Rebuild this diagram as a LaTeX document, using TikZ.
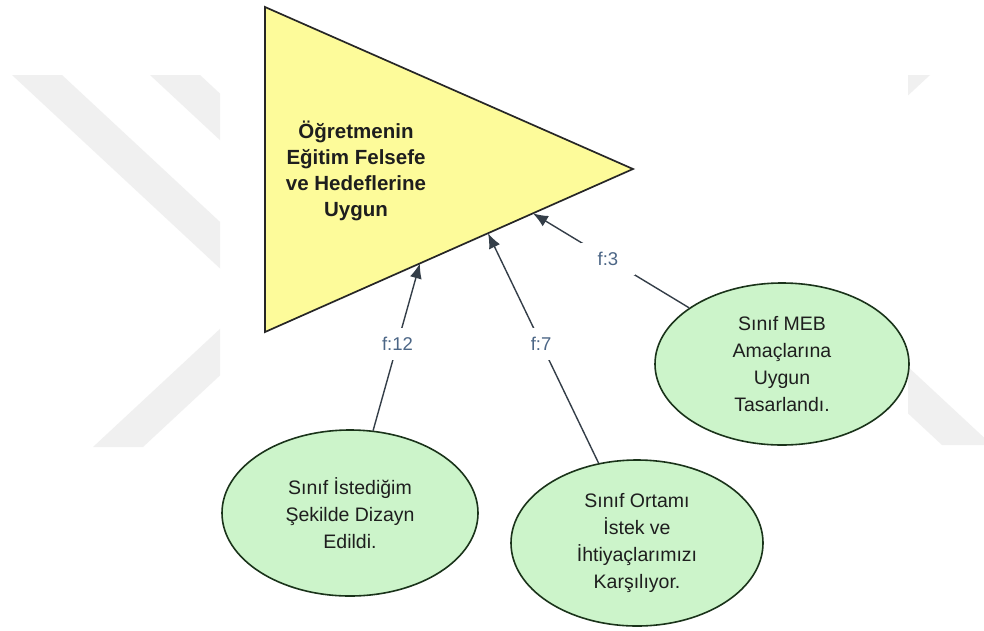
\documentclass[tikz,border=0pt]{standalone}
\usepackage{fontspec}
\setmainfont{Liberation Sans}
\usetikzlibrary{shapes.geometric,arrows.meta,calc}
\definecolor{triFill}{HTML}{FDFB9A}
\definecolor{triLine}{HTML}{262626}
\definecolor{ellFill}{HTML}{CCF4CA}
\definecolor{ellLine}{HTML}{1A331A}
\definecolor{txtCol}{HTML}{1E1E1E}
\definecolor{linkCol}{HTML}{343E48}
\definecolor{lblCol}{HTML}{4C6686}
\definecolor{wmCol}{HTML}{F0F0F0}
\begin{document}
\begin{tikzpicture}[x=1pt,y=-1pt,
  goalshape/.style={fill=triFill, draw=triLine, line width=1.7pt, line join=miter},
  goaltext/.style={align=center, text=txtCol, inner sep=0pt,
    font=\fontsize{20.5}{26}\selectfont\bfseries},
  outcome/.style={ellipse, draw=ellLine, line width=1.6pt, fill=ellFill,
    minimum width=256pt, minimum height=166pt, inner sep=0pt, align=center,
    text=txtCol, font=\fontsize{19.5}{27}\selectfont},
  link/.style={draw=linkCol, line width=1.4pt, -{Latex[length=15pt,width=12pt]}},
  freq/.style={fill=white, text=lblCol, font=\fontsize{18.5}{20}\selectfont,
    minimum width=54pt, minimum height=32pt, inner sep=0pt},
  wm/.style={fill=wmCol}]

\useasboundingbox (0,0) rectangle (984,630);
\fill[white] (0,0) rectangle (984,630);

% background watermark
\begin{scope}
  \clip (0,0) rectangle (220,630);
  \fill[wm] (12,75) -- (62,75) -- (362,354) -- (312,354) -- cycle;
  \fill[wm] (93,447) -- (143,447) -- (443,168) -- (393,168) -- cycle;
  \fill[wm] (150,75) -- (200,75) -- (500,354) -- (450,354) -- cycle;
\end{scope}
\begin{scope}
  \clip (908,0) rectangle (984,630);
  \fill[wm] (880,75) -- (930,75) -- (630,354) -- (580,354) -- cycle;
  \fill[wm] (942,445) -- (992,445) -- (692,166) -- (642,166) -- cycle;
\end{scope}

% goal triangle
\coordinate (tA) at (265,7);
\coordinate (tB) at (265,332);
\coordinate (tC) at (633,169);
\path[goalshape] (tA) -- (tC) -- (tB) -- cycle;
\node[goaltext] (goal) at (356,171) {Öğretmenin\\Eğitim Felsefe\\ve Hedeflerine\\Uygun};

\coordinate (p1) at ($(tB)!0.421!(tC)$);
\coordinate (p2) at ($(tB)!0.606!(tC)$);
\coordinate (p3) at ($(tB)!0.728!(tC)$);

% outcomes
\node[outcome] (e1) at (350,513) {Sınıf İstediğim\\Şekilde Dizayn\\Edildi.};
\node[outcome, minimum width=252pt] (e2) at (637,543) {Sınıf Ortamı\\İstek ve\\İhtiyaçlarımızı\\Karşılıyor.};
\node[outcome, minimum width=254pt, minimum height=162pt] (e3) at (782,364) {Sınıf MEB\\Amaçlarına\\Uygun\\Tasarlandı.};

% connectors
\draw[link] (e1) -- (p1) node[freq, pos=0.52] {f:12};
\draw[link] (e2) -- (p2) node[freq, pos=0.52] {f:7};
\draw[link] (e3) -- (p3) node[freq, pos=0.52] {f:3};
\end{tikzpicture}
\end{document}
